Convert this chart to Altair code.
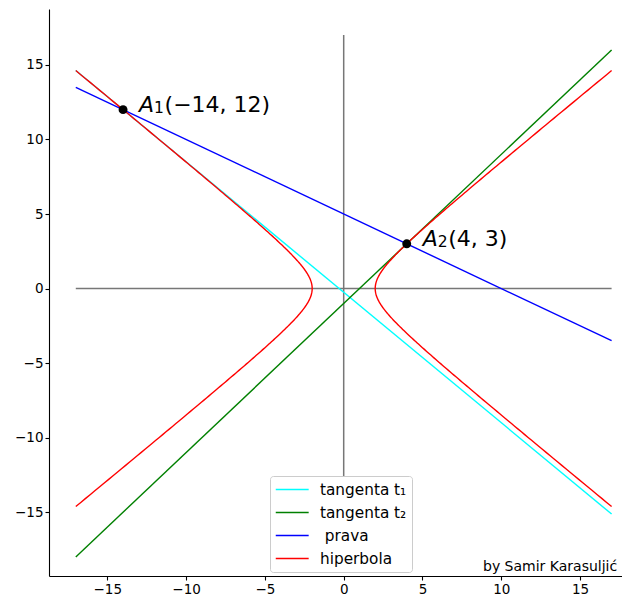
import altair as alt
import numpy as np
import pandas as pd

# ---- data ----
series_names = ["tangenta t₁", "tangenta t₂", "\u200b\u00a0prava", "hiperbola"]
series_colors = ["#00ffff", "#008000", "#0000ff", "#ff0000"]

t1_x = [-17, 17]
t1_y = [14.625, -15.125]
t2_x = [-17, 17]
t2_y = [-18, 16]
prava_x = [-17, 17]
prava_y = [13.5, -3.5]

axis_h_x = [-17, 17]
axis_h_y = [0, 0]
axis_v_x = [0, 0]
axis_v_y = [-17, 17]

points_x = [-14, 4]
points_y = [12, 3]
label_sub = ["1", "2"]
label_rest = ["(−14, 12)", "(4, 3)"]

# hyperbola x^2/a2 - y^2/b2 = 1, drawn for |x| <= 17
hyp_a2 = 4
hyp_b2 = 3
hyp_xmax = 17

credit = "by Samir Karasuljić"

# ---- tables ----
rows = []
for name, xs, ys in [(series_names[0], t1_x, t1_y),
                     (series_names[1], t2_x, t2_y),
                     (series_names[2], prava_x, prava_y)]:
    for i, (xv, yv) in enumerate(zip(xs, ys)):
        rows.append(dict(x=xv, y=yv, s=name, part=name, o=i))

a = np.sqrt(hyp_a2)
b = np.sqrt(hyp_b2)
tmax = np.arccosh(hyp_xmax / a)
tt = np.linspace(-tmax, tmax, 301)
for sign, part in [(-1, "left"), (1, "right")]:
    for i, t in enumerate(tt):
        rows.append(dict(x=sign * a * np.cosh(t), y=b * np.sinh(t), s=series_names[3], part=part, o=i))
lines = pd.DataFrame(rows)

axes_df = pd.DataFrame({
    "x": axis_h_x + axis_v_x,
    "y": axis_h_y + axis_v_y,
    "g": ["h", "h", "v", "v"],
})

pts = pd.DataFrame({"x": points_x, "y": points_y, "sub": label_sub,
                    "rest": label_rest, "A": ["A", "A"]})
credit_df = pd.DataFrame({"t": [credit]})

xs = alt.Scale(domain=[-18.7, 17.66], nice=False, zero=False)
ys = alt.Scale(domain=[-19.28, 18.75], nice=False, zero=False)
ticks = [-15, -10, -5, 0, 5, 10, 15]

X = alt.X("x:Q", scale=xs, axis=alt.Axis(values=ticks, title=None, grid=False, labelFlush=False))
Y = alt.Y("y:Q", scale=ys, axis=alt.Axis(values=ticks, title=None, grid=False, labelFlush=False))

axes_layer = alt.Chart(axes_df).mark_line(color="#777777", strokeWidth=1.5).encode(
    x=X, y=Y, detail="g:N")

line_layer = alt.Chart(lines).mark_line(strokeWidth=1.4).encode(
    x=X, y=Y,
    color=alt.Color("s:N", scale=alt.Scale(domain=series_names, range=series_colors),
                    sort=series_names,
                    legend=alt.Legend(title=None, orient="none", legendX=221, legendY=467,
                                      symbolType="M-1,0H3.25", symbolSize=240,
                                      symbolStrokeWidth=1.5, labelOffset=28,
                                      labelFontSize=15.3, labelFont="DejaVu Sans",
                                      labelColor="black", rowPadding=6, padding=5,
                                      fillColor="white", strokeColor="#cccccc",
                                      cornerRadius=3)),
    detail="part:N", order="o:Q")

pt_layer = alt.Chart(pts).mark_circle(size=80, color="black", opacity=1).encode(x=X, y=Y)
a_layer = alt.Chart(pts).mark_text(align="left", baseline="alphabetic", dx=16, dy=2,
                                   fontSize=22, fontStyle="italic", font="DejaVu Sans",
                                   color="black").encode(x=X, y=Y, text="A:N")
sub_layer = alt.Chart(pts).mark_text(align="left", baseline="alphabetic", dx=31, dy=3.5,
                                     fontSize=15.5, font="DejaVu Sans",
                                     color="black").encode(x=X, y=Y, text="sub:N")
rest_layer = alt.Chart(pts).mark_text(align="left", baseline="alphabetic", dx=41.5, dy=2,
                                      fontSize=22, font="DejaVu Sans",
                                      color="black").encode(x=X, y=Y, text="rest:N")
credit_layer = alt.Chart(credit_df).mark_text(align="left", baseline="alphabetic", fontSize=14,
                                              font="DejaVu Sans", color="black").encode(
    x=alt.value(434), y=alt.value(562), text="t:N")

chart = alt.layer(axes_layer, line_layer, pt_layer, a_layer, sub_layer, rest_layer,
                  credit_layer).properties(
    width=573, height=567,
    autosize=alt.AutoSizeParams(type="none"),
    padding={"left": 41, "top": 1, "right": 0, "bottom": 20},
).configure_view(stroke=None).configure_axis(
    domainColor="black", domainWidth=1.1, tickColor="black", tickWidth=1.1, tickSize=4,
    labelFont="DejaVu Sans", labelFontSize=13.5, labelColor="black", labelPadding=2,
).configure_axisY(labelPadding=2)

chart.save("out.html", embed_options={"renderer": "svg", "actions": False})
